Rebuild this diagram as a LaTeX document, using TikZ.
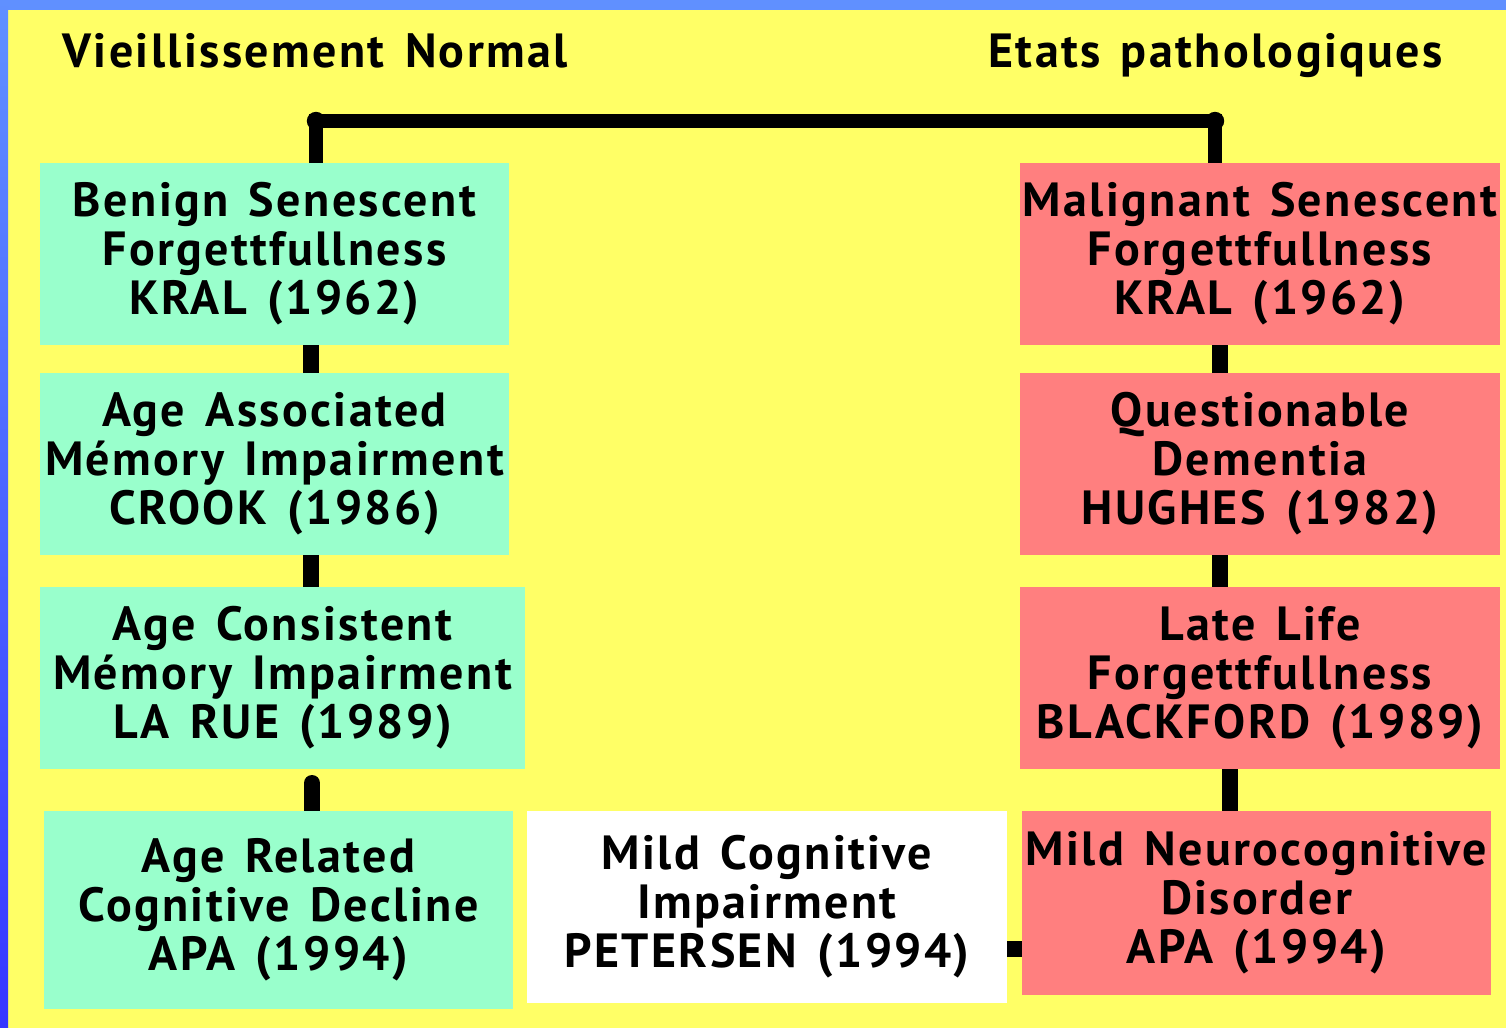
\documentclass[tikz,border=0pt]{standalone}
\usepackage{fontspec}
\setmainfont{PT Sans}
\newfontfamily\diagfont[LetterSpace=5,WordSpace=1.4]{PT Sans}
\usetikzlibrary{backgrounds}
\definecolor{bgyellow}{HTML}{FFFF66}
\definecolor{bxgreen}{HTML}{99FFCC}
\definecolor{bxred}{HTML}{FF7F7F}
\definecolor{bordtop}{HTML}{6090FF}
\definecolor{bordbot}{HTML}{3636FF}
\tikzset{
  box/.style={rectangle, inner sep=0pt, align=center, text=black,
    font=\diagfont\fontsize{24}{24.5}\selectfont\bfseries},
  gbox/.style={box, fill=bxgreen},
  rbox/.style={box, fill=bxred},
  wbox/.style={box, fill=white},
  conn/.style={draw=black, line width=8pt},
  bracket/.style={draw=black, line width=7pt},
  title/.style={font=\diagfont\fontsize{24}{24.5}\selectfont\bfseries, inner sep=0pt, anchor=base west}
}
\begin{document}
\begin{tikzpicture}[x=0.5pt,y=-0.5pt]
\useasboundingbox (0,0) rectangle (1506,1028);
% boxes
\node[gbox, minimum width=234.5pt, minimum height=91pt] (g1) at (274.5,254) {Benign Senescent\\Forgettfullness\\KRAL (1962)};
\node[gbox, minimum width=234.5pt, minimum height=91pt] (g2) at (274.5,464) {Age Associated\\Mémory Impairment\\CROOK (1986)};
\node[gbox, minimum width=242.5pt, minimum height=91pt] (g3) at (282.5,678) {Age Consistent\\Mémory Impairment\\LA RUE (1989)};
\node[gbox, minimum width=234.5pt, minimum height=99pt] (g4) at (278.5,910) {Age Related\\Cognitive Decline\\APA (1994)};
\node[wbox, minimum width=240pt, minimum height=96pt] (w) at (767,907) {Mild Cognitive\\Impairment\\PETERSEN (1994)};
\node[rbox, minimum width=240pt, minimum height=91pt] (r1) at (1260,254) {Malignant Senescent\\Forgettfullness\\KRAL (1962)};
\node[rbox, minimum width=240pt, minimum height=91pt] (r2) at (1260,464) {Questionable\\Dementia\\HUGHES (1982)};
\node[rbox, minimum width=240pt, minimum height=91pt] (r3) at (1260,678) {Late Life\\Forgettfullness\\BLACKFORD (1989)};
\node[rbox, minimum width=234.5pt, minimum height=92pt] (r4) at (1256.5,903) {Mild Neurocognitive\\Disorder\\APA (1994)};
% titles
\node[title] (tL) at (62,68) {Vieillissement Normal};
\node[title] (tR) at (988,68) {Etats pathologiques};
% coordinates
\coordinate (tl) at (316,121);
\coordinate (tr) at (1215,121);
\coordinate (lx) at (311,0);
\coordinate (lx2) at (312,0);
\coordinate (g34) at (312,783);
\coordinate (rx) at (1220,0);
\coordinate (rx2) at (1230,0);
\begin{scope}[on background layer]
  \fill[bgyellow] (0,0) rectangle (1506,1028);
  \fill[bordtop] (0,0) rectangle (1506,10);
  \shade[top color=bordtop, bottom color=bordbot] (0,0) rectangle (8,1028);
  \draw[bracket] (tl |- g1.north) -- (tl) -- (tr) -- (tr |- r1.north);
  \fill (tl) circle (4.6pt);
  \fill (tr) circle (4.6pt);
  \draw[conn] (g1.south -| lx) -- (g2.north -| lx);
  \draw[conn] (g2.south -| lx) -- (g3.north -| lx);
  \draw[conn, line cap=round] (g34) -- (g4.north -| lx2);
  \draw[conn] (r1.south -| rx) -- (r2.north -| rx);
  \draw[conn] (r2.south -| rx) -- (r3.north -| rx);
  \draw[conn] (r3.south -| rx2) -- (r4.north -| rx2);
  \draw[conn] (w.east |- 0,949) -- (r4.west |- 0,949);
\end{scope}
\end{tikzpicture}
\end{document}
